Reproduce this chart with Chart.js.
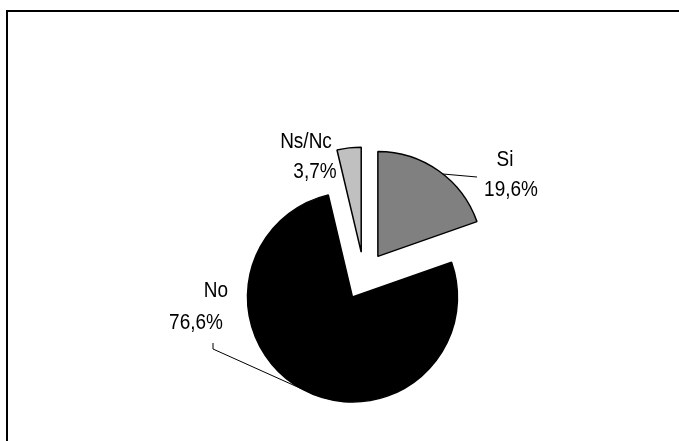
<!DOCTYPE html>
<html>
<head>
<meta charset="utf-8">
<script src="https://cdn.jsdelivr.net/npm/chart.js@4/dist/chart.umd.min.js"></script>
<style>
  html, body { margin: 0; padding: 0; background: #fff; overflow: hidden; }
  /* the chart frame runs off the right and bottom edges of the picture */
  #frame { position: absolute; left: 6px; top: 10px; width: 900px; height: 700px;
           border-left: 2px solid #000; border-top: 2px solid #000; }
  #pie { position: absolute; left: 0; top: 0; }
</style>
</head>
<body>
<div id="frame"></div>
<canvas id="pie" width="679" height="441"></canvas>
<script>
// chart data
var categories = ['Si', 'No', 'Ns/Nc'];
var values = [19.6, 76.6, 3.7];
var colors = ['#808080', '#000000', '#c0c0c0'];

// layout of the exploded slices and of the labels (pixels, relative to pie centre)
var explode = [24, 24, 24];
var label_lines = [
    [[141, -116], [147, -86]],
    [[-148, 15], [-168, 47]],
    [[-58, -134], [-49, -104]]
];
// leader lines: angle on the slice rim (deg), then points relative to centre
var leaders = [
    {angle: -51.7, points: [[113, -99]]},
    {angle: 119.5, points: [[-151, 73], [-151, 67]]},
    null
];

// chart.js only pushes a slice by offset/4 and grows it, so move whole slices here
var ArcEl = Chart.ArcElement || Chart.elements.ArcElement;
var base_draw = ArcEl.prototype.draw;
ArcEl.prototype.draw = function (ctx) {
    var push = this.explode || 0;
    var mid = (this.startAngle + this.endAngle) / 2;
    ctx.save();
    ctx.translate(Math.cos(mid) * push, Math.sin(mid) * push);
    base_draw.call(this, ctx);
    ctx.restore();
};

function fmt(v) {
    return v.toFixed(1).replace('.', ',') + '%';
}

var pie_labels = {
    id: 'pie_labels',
    beforeDatasetsDraw: function (chart) {
        chart.getDatasetMeta(0).data.forEach(function (arc, i) {
            arc.explode = explode[i];
        });
    },
    afterDatasetsDraw: function (chart) {
        var ctx = chart.ctx;
        var arcs = chart.getDatasetMeta(0).data;
        ctx.save();
        arcs.forEach(function (arc, i) {
            var cx = arc.x, cy = arc.y;
            var mid = (arc.startAngle + arc.endAngle) / 2;
            var lead = leaders[i];
            if (lead) {
                var a = lead.angle * Math.PI / 180;
                var sx = cx + Math.cos(mid) * explode[i] + Math.cos(a) * arc.outerRadius;
                var sy = cy + Math.sin(mid) * explode[i] + Math.sin(a) * arc.outerRadius;
                ctx.beginPath();
                ctx.moveTo(sx, sy);
                lead.points.forEach(function (p) {
                    ctx.lineTo(cx + p[0], cy + p[1]);
                });
                ctx.strokeStyle = '#000';
                ctx.lineWidth = 1;
                ctx.stroke();
            }
            var texts = [categories[i], fmt(values[i])];
            ctx.fillStyle = '#000';
            ctx.font = '19px "Liberation Sans", Arial, sans-serif';
            ctx.textAlign = 'center';
            ctx.textBaseline = 'middle';
            texts.forEach(function (t, k) {
                var p = label_lines[i][k];
                // the original lettering is a bit taller than wide
                ctx.save();
                ctx.translate(cx + p[0], cy + p[1]);
                ctx.scale(1, 1.15);
                ctx.fillText(t, 0, 0);
                ctx.restore();
            });
        });
        ctx.restore();
    }
};

new Chart(document.getElementById('pie'), {
    type: 'pie',
    data: {
        labels: categories,
        datasets: [{
            data: values,
            backgroundColor: colors,
            borderColor: '#000',
            borderWidth: 1.5
        }]
    },
    options: {
        responsive: false,
        animation: false,
        radius: 105,
        layout: {padding: {left: 49, right: 0, top: 111, bottom: 0}},
        plugins: {
            legend: {display: false},
            tooltip: {enabled: false}
        }
    },
    plugins: [pie_labels]
});
</script>
</body>
</html>
